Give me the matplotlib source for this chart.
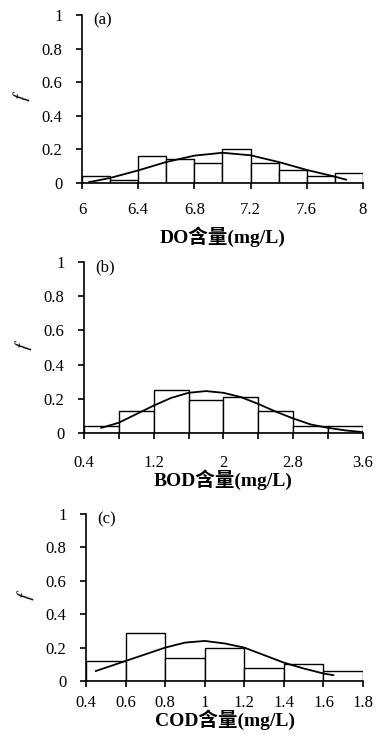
import numpy as np
import matplotlib.pyplot as plt

# (a) DO
do_edges = [6.0, 6.2, 6.4, 6.6, 6.8, 7.0, 7.2, 7.4, 7.6, 7.8, 8.0]
do_freq = [0.04, 0.02, 0.16, 0.14, 0.12, 0.20, 0.12, 0.08, 0.04, 0.06]
do_curve_x = [6.05, 6.2, 6.4, 6.6, 6.8, 7.0, 7.2, 7.4, 7.6, 7.8, 7.88]
do_curve_y = [0.005, 0.03, 0.075, 0.125, 0.163, 0.18, 0.165, 0.125, 0.078, 0.038, 0.02]
do_ticks = [6, 6.4, 6.8, 7.2, 7.6, 8]
do_labels = ['6', '6.4', '6.8', '7.2', '7.6', '8']

# (b) BOD
bod_edges = [0.4, 0.8, 1.2, 1.6, 2.0, 2.4, 2.8, 3.2, 3.6]
bod_freq = [0.04, 0.13, 0.25, 0.19, 0.21, 0.13, 0.04, 0.04]
bod_curve_x = [0.6, 0.8, 1.0, 1.2, 1.4, 1.6, 1.8, 2.0, 2.2, 2.4, 2.6, 2.8, 3.0, 3.2, 3.4, 3.6]
bod_curve_y = [0.03, 0.06, 0.11, 0.16, 0.205, 0.235, 0.245, 0.235, 0.21, 0.17, 0.125, 0.085, 0.05, 0.03, 0.015, 0.005]
bod_ticks = [0.4, 0.8, 1.2, 1.6, 2.0, 2.4, 2.8, 3.2, 3.6]
bod_labels = ['0.4', '', '1.2', '', '2', '', '2.8', '', '3.6']

# (c) COD
cod_edges = [0.4, 0.6, 0.8, 1.0, 1.2, 1.4, 1.6, 1.8]
cod_freq = [0.12, 0.29, 0.14, 0.20, 0.08, 0.10, 0.06]
cod_curve_x = [0.45, 0.6, 0.7, 0.8, 0.9, 1.0, 1.1, 1.2, 1.3, 1.4, 1.5, 1.6, 1.65]
cod_curve_y = [0.06, 0.12, 0.16, 0.20, 0.23, 0.24, 0.225, 0.20, 0.155, 0.11, 0.075, 0.045, 0.035]
cod_ticks = [0.4, 0.6, 0.8, 1.0, 1.2, 1.4, 1.6, 1.8]
cod_labels = ['0.4', '0.6', '0.8', '1', '1.2', '1.4', '1.6', '1.8']

yticks = [0, 0.2, 0.4, 0.6, 0.8, 1]
ylabels = ['0', '0.2', '0.4', '0.6', '0.8', '1']

font = ['Liberation Serif', 'Noto Sans CJK SC']
plt.rcParams['font.family'] = font

fig = plt.figure(figsize=(3.78, 7.4), dpi=100)

# rect, data..., x tick pad, xlabel pad
panels = [
    ([0.217, 0.7527, 0.743, 0.227], do_edges, do_freq, do_curve_x, do_curve_y,
     do_ticks, do_labels, 'DO含量(mg/L)', '(a)', 10, 6),
    ([0.222, 0.4149, 0.738, 0.231], bod_edges, bod_freq, bod_curve_x, bod_curve_y,
     bod_ticks, bod_labels, 'BOD含量(mg/L)', '(b)', 12, -1),
    ([0.2275, 0.0797, 0.733, 0.2257], cod_edges, cod_freq, cod_curve_x, cod_curve_y,
     cod_ticks, cod_labels, 'COD含量(mg/L)', '(c)', 6, -1),
]

for rect, edges, freq, cx, cy, xt, xl, xlabel, tag, xpad, lpad in panels:
    ax = fig.add_axes(rect)
    edges = np.array(edges)
    ax.bar(edges[:-1], freq, width=np.diff(edges), align='edge',
           color='white', edgecolor='black', linewidth=1.0, zorder=2)
    ax.plot(cx, cy, color='black', lw=1.3, zorder=3)
    ax.set_xlim(edges[0], edges[-1])
    ax.set_ylim(0, 1)
    ax.spines['top'].set_visible(False)
    ax.spines['right'].set_visible(False)
    ax.spines['left'].set_linewidth(1.2)
    ax.spines['bottom'].set_linewidth(1.2)
    ax.set_xticks(xt)
    ax.set_xticklabels(xl)
    ax.set_yticks(yticks)
    ax.set_yticklabels(ylabels)
    ax.tick_params(axis='both', direction='out', length=4, width=1.2, labelsize=12)
    ax.tick_params(axis='x', pad=xpad)
    ax.tick_params(axis='y', pad=10)
    ax.set_xlabel(xlabel, fontsize=14, fontweight='bold', labelpad=lpad, family=font)
    ax.set_ylabel('f', fontsize=13, style='italic', rotation=80, labelpad=8)
    ax.text(0.04, 0.97, tag, transform=ax.transAxes, fontsize=12,
            va='center', ha='left')

plt.savefig('out.png', dpi=100)
